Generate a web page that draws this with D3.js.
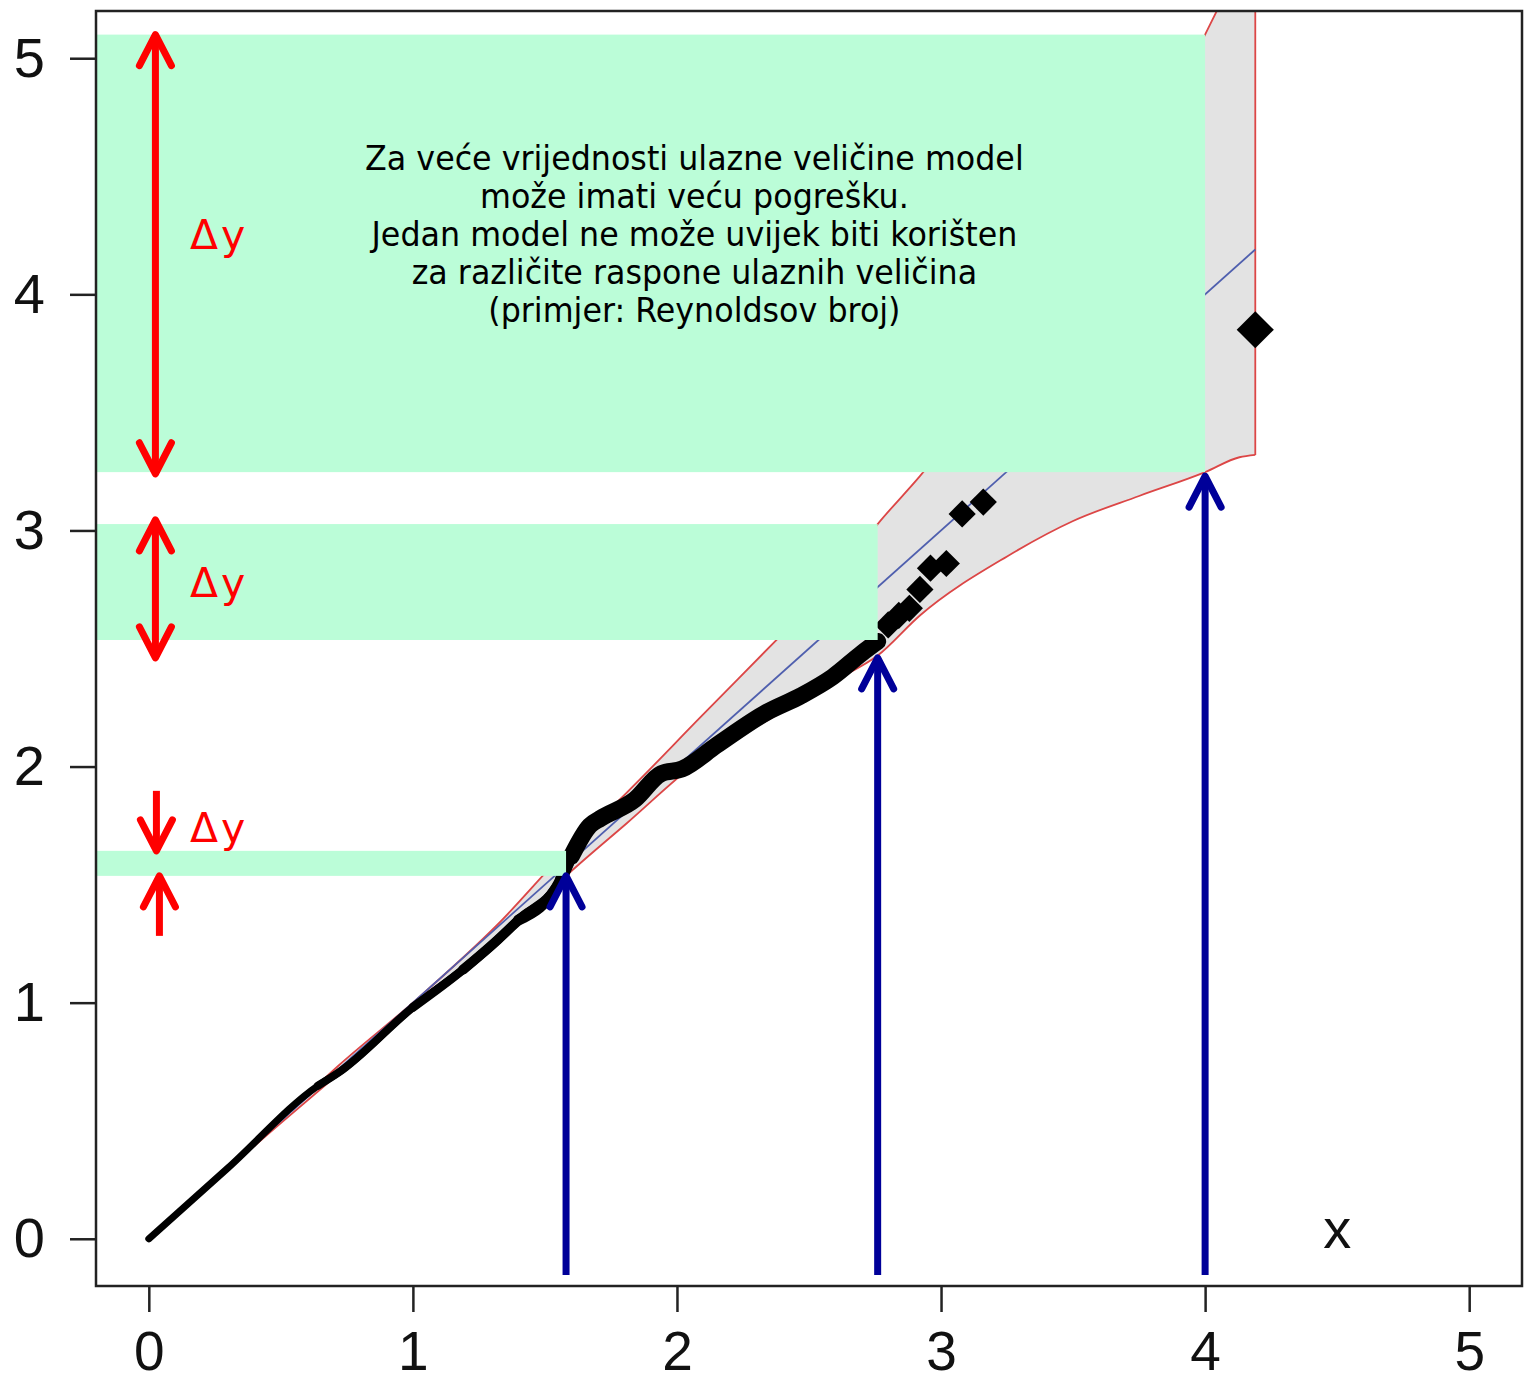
<!DOCTYPE html>
<html>
<head>
<meta charset="utf-8">
<script src="https://cdn.jsdelivr.net/npm/d3@7"></script>
<style>
  body { margin: 0; background: #fff; }
</style>
</head>
<body>
<div id="chart"></div>
<script>
// ---- podaci (očitano sa slike) ----
const xTicks = [0, 1, 2, 3, 4, 5];
const yTicks = [0, 1, 2, 3, 4, 5];

// gusti dio mjerenja (izgleda kao debela crta)
const denseX = [0, 0.30, 0.64, 0.72, 1.00, 1.19, 1.32, 1.40, 1.56, 1.60, 1.67, 1.71, 1.84, 1.94, 2.02, 2.15, 2.34, 2.47, 2.59, 2.70, 2.76];
const denseY = [0, 0.30, 0.648, 0.705, 0.98, 1.14, 1.265, 1.35, 1.52, 1.62, 1.75, 1.78, 1.86, 1.97, 1.99, 2.09, 2.23, 2.30, 2.38, 2.48, 2.53];

// pojedinačne točke
const sparseX = [2.80, 2.84, 2.88, 2.92, 2.96, 3.02, 3.08, 3.16, 4.19];
const sparseY = [2.60, 2.64, 2.67, 2.75, 2.84, 2.86, 3.07, 3.12, 3.85];

// pojas pouzdanosti (gornja i donja granica)
const bandX  = [0, 0.5, 0.72, 1.0, 1.32, 1.58, 1.81, 2.09, 2.38, 2.59, 2.76, 2.92, 3.25, 3.5, 3.75, 4.0, 4.13, 4.19];
const bandHi = [0, 0.505, 0.735, 1.0, 1.33, 1.643, 1.89, 2.21, 2.54, 2.78, 3.027, 3.23, 3.7, 4.1, 4.55, 5.10, 5.4, 5.55];
const bandLo = [0, 0.49, 0.70, 0.965, 1.255, 1.537, 1.76, 2.03, 2.22, 2.36, 2.47, 2.64, 2.89, 3.04, 3.146, 3.247, 3.31, 3.32];

// model y = x
const fitX = [0, 4.19];
const fitY = [0, 4.19];

// presjeci (zeleni pojasevi, strelice)
const cutX = [1.58, 2.76, 4.0];
const cutHi = [1.643, 3.027, 5.10];
const cutLo = [1.537, 2.536, 3.247];
const arrowTipY = [1.537, 2.46, 3.23];
const spanTop = [1.643, 3.045, 5.10];
const spanBottom = [1.537, 2.46, 3.24];
const deltaLabelY = [1.68, 2.72, 4.19];
const deltaLabel = "Δy";
const xLabel = "x";

const noteLines = [
  "Za veće vrijednosti ulazne veličine model",
  "može imati veću pogrešku.",
  "Jedan model ne može uvijek biti korišten",
  "za različite raspone ulaznih veličina",
  "(primjer: Reynoldsov broj)"
];

// ---- crtanje ----
const W = 1533, H = 1382;
const frame = { left: 96, right: 1522, top: 11, bottom: 1286 };

const svg = d3.select("#chart").append("svg").attr("width", W).attr("height", H);
svg.append("rect").attr("width", W).attr("height", H).attr("fill", "#fff");

const x = d3.scaleLinear().domain([-0.2, 5.2]).range([frame.left, frame.right]);
const y = d3.scaleLinear().domain([-0.2, 5.2]).range([frame.bottom, frame.top]);

svg.append("clipPath").attr("id", "plot-clip").append("rect")
  .attr("x", frame.left).attr("y", frame.top)
  .attr("width", frame.right - frame.left).attr("height", frame.bottom - frame.top);

const plot = svg.append("g").attr("clip-path", "url(#plot-clip)");
const line = d3.line().x(d => x(d[0])).y(d => y(d[1]));
const smooth = d3.line().x(d => x(d[0])).y(d => y(d[1])).curve(d3.curveMonotoneX);

// pojas
const band = bandX.map((v, i) => ({ x: v, lo: bandLo[i], hi: bandHi[i] }));
plot.append("path")
  .attr("d", d3.area().x(d => x(d.x)).y0(d => y(d.lo)).y1(d => y(d.hi)).curve(d3.curveMonotoneX)(band))
  .attr("fill", "#e3e3e3");
const envColor = "#dc4646";
plot.append("path").attr("d", smooth(band.map(d => [d.x, d.hi])))
  .attr("fill", "none").attr("stroke", envColor).attr("stroke-width", 1.8);
plot.append("path").attr("d", smooth(band.map(d => [d.x, d.lo])))
  .attr("fill", "none").attr("stroke", envColor).attr("stroke-width", 1.8);
const end = band[band.length - 1];
plot.append("path").attr("d", line([[end.x, end.lo], [end.x, end.hi]]))
  .attr("fill", "none").attr("stroke", envColor).attr("stroke-width", 1.8);

// model
plot.append("path")
  .attr("d", line(fitX.map((v, i) => [v, fitY[i]])))
  .attr("fill", "none")
  .attr("stroke", "#4f5fae")
  .attr("stroke-width", 1.8);

// gusti trag točaka: debljina raste s gustoćom rasipanja
const dense = denseX.map((v, i) => [v, denseY[i]]);
[[0, 7], [0.6, 8], [0.95, 9], [1.15, 10], [1.35, 11], [1.5, 12], [1.58, 17]].forEach(([from, w]) => {
  plot.append("path")
    .attr("d", smooth(dense.filter(d => d[0] >= from)))
    .attr("fill", "none")
    .attr("stroke", "#000")
    .attr("stroke-width", w)
    .attr("stroke-linecap", "round")
    .attr("stroke-linejoin", "round");
});

// pojedinačne točke (romb)
const last = sparseX.length - 1;
plot.selectAll("path.pt").data(sparseX).join("path")
  .attr("class", "pt")
  .attr("transform", (d, i) => `translate(${x(d)},${y(sparseY[i])}) rotate(45)`)
  .attr("d", (d, i) => d3.symbol(d3.symbolSquare, i === last ? 690 : 370)())
  .attr("fill", "#000");

// zeleni pojasevi
svg.selectAll("rect.cut").data(cutX).join("rect")
  .attr("class", "cut")
  .attr("x", frame.left + 1)
  .attr("y", (d, i) => y(cutHi[i]))
  .attr("width", d => x(d) - frame.left - 1)
  .attr("height", (d, i) => y(cutLo[i]) - y(cutHi[i]))
  .attr("fill", "#bbfdd8");

// tekst napomene
const note = svg.append("g")
  .attr("font-family", "'DejaVu Sans', Verdana, sans-serif")
  .attr("font-size", 34)
  .attr("fill", "#000")
  .attr("text-anchor", "middle");
note.selectAll("text").data(noteLines).join("text")
  .attr("x", 0)
  .attr("y", (d, i) => y(cutHi[2]) + 135 + i * 38)
  .text(d => d);
const firstLen = note.select("text").node().getComputedTextLength();
const sx = 659 / firstLen;
note.attr("transform", `translate(${x(2.066)},0) scale(${sx},1)`);

// plave strelice
const blue = "#000099";
const arrows = svg.append("g");
cutX.forEach((cx, i) => {
  const px = x(cx), tip = y(arrowTipY[i]);
  arrows.append("line")
    .attr("x1", px).attr("x2", px)
    .attr("y1", y(-0.153)).attr("y2", tip + 3)
    .attr("stroke", blue).attr("stroke-width", 7);
  arrows.append("path")
    .attr("d", `M${px - 16},${tip + 31}L${px},${tip}L${px + 16},${tip + 31}`)
    .attr("fill", "none").attr("stroke", blue).attr("stroke-width", 7)
    .attr("stroke-linecap", "round").attr("stroke-linejoin", "round");
});

// crvene strelice Δy
const red = "#ff0000";
function head(g, px, tip, dir) {
  g.append("path")
    .attr("d", `M${px - 16},${tip + dir * 31}L${px},${tip}L${px + 16},${tip + dir * 31}`)
    .attr("fill", "none").attr("stroke", red).attr("stroke-width", 7)
    .attr("stroke-linecap", "round").attr("stroke-linejoin", "round");
}
cutX.forEach((cx, i) => {
  const px = x(0.025);
  const top = y(spanTop[i]), bot = y(spanBottom[i]);
  if (bot - top < 60) {
    // uski pojas: strelice prema unutra
    arrows.append("line").attr("x1", px + 1).attr("x2", px + 1)
      .attr("y1", top - 60).attr("y2", top - 3)
      .attr("stroke", red).attr("stroke-width", 7);
    head(arrows, px + 1, top, -1);
    arrows.append("line").attr("x1", px + 4).attr("x2", px + 4)
      .attr("y1", bot + 60).attr("y2", bot + 3)
      .attr("stroke", red).attr("stroke-width", 7);
    head(arrows, px + 4, bot, 1);
  } else {
    arrows.append("line").attr("x1", px).attr("x2", px)
      .attr("y1", top + 3).attr("y2", bot - 3)
      .attr("stroke", red).attr("stroke-width", 7);
    head(arrows, px, top, 1);
    head(arrows, px, bot, -1);
  }
  arrows.append("text")
    .attr("x", x(0.156))
    .attr("y", y(deltaLabelY[i]))
    .attr("font-family", "'DejaVu Sans', Verdana, sans-serif")
    .attr("font-size", 41)
    .attr("letter-spacing", 3)
    .attr("fill", red)
    .text(deltaLabel);
});

// osi
const axisFont = "'Liberation Sans', Arial, Helvetica, sans-serif";
const xAxis = d3.axisBottom(x).tickValues(xTicks).tickSize(26).tickPadding(19).tickFormat(d3.format("d"));
const yAxis = d3.axisLeft(y).tickValues(yTicks).tickSize(26).tickPadding(25).tickFormat(d3.format("d"));

function styleAxis(g, size) {
  g.select(".domain").remove();
  g.attr("font-family", axisFont).attr("font-size", size);
  g.selectAll(".tick line").attr("stroke", "#222").attr("stroke-width", 2.5);
  g.selectAll(".tick text").attr("fill", "#111");
}
svg.append("g").attr("transform", `translate(0,${frame.bottom})`).call(xAxis).call(styleAxis, 55);
svg.append("g").attr("transform", `translate(${frame.left},0)`).call(yAxis).call(styleAxis, 56);

// okvir
svg.append("rect")
  .attr("x", frame.left).attr("y", frame.top)
  .attr("width", frame.right - frame.left).attr("height", frame.bottom - frame.top)
  .attr("fill", "none").attr("stroke", "#222").attr("stroke-width", 2.5);

// oznaka osi x
svg.append("text")
  .attr("x", x(4.5)).attr("y", y(-0.04))
  .attr("text-anchor", "middle")
  .attr("font-family", axisFont).attr("font-size", 56)
  .attr("fill", "#111")
  .text(xLabel);
</script>
</body>
</html>
